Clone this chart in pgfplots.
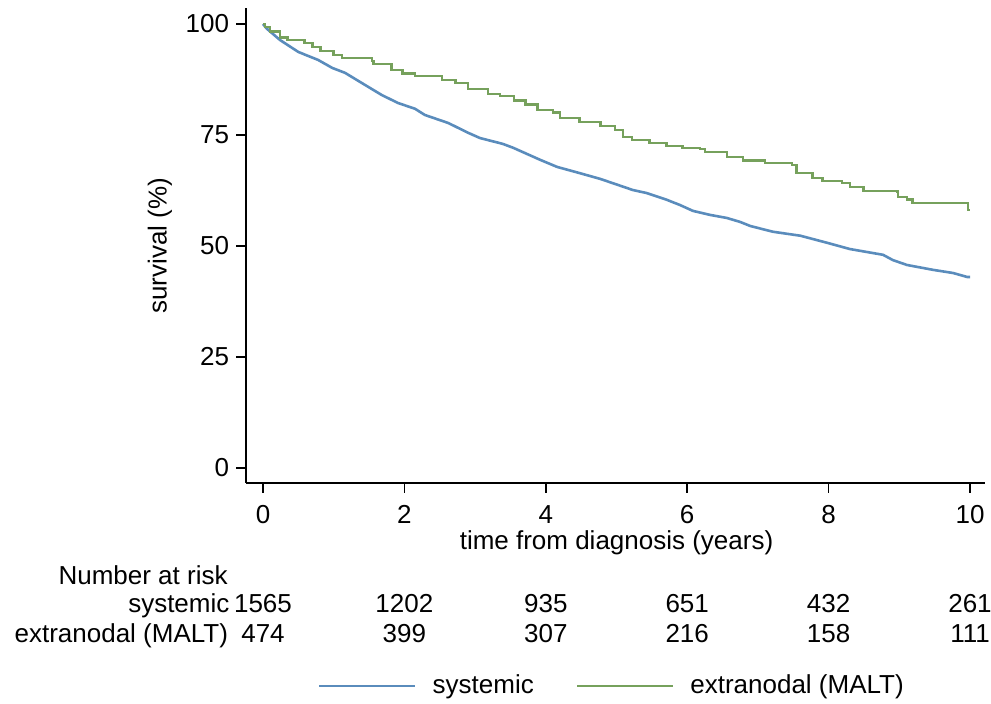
\documentclass[border=0pt]{standalone}
\usepackage{fontspec}
\setmainfont{Liberation Sans}
\usepackage{pgfplots}
\pgfplotsset{compat=1.18}
\definecolor{kmblue}{RGB}{90,140,188}
\definecolor{kmgreen}{RGB}{118,161,92}
\begin{document}
\fontsize{13}{15}\selectfont
\begin{tikzpicture}
\begin{axis}[
  scale only axis, width=369.5pt, height=237.5pt,
  xmin=-0.24, xmax=10.21, ymin=-3.4, ymax=103.6,
  axis x line*=bottom, axis y line*=left,
  axis line style={line width=0.75pt, -},
  xtick={0,2,...,10}, ytick={0,25,50,75,100},
  tick align=outside, major tick length=5pt,
  tick style={line width=0.75pt, black},
  /pgf/number format/assume math mode=true,
  xticklabel style={anchor=base, yshift=-15.5pt},
  yticklabel style={anchor=east, xshift=1pt},
  xlabel={time from diagnosis (years)},
  xlabel style={at={(axis cs:5,-18.47)}, anchor=base, inner sep=0pt},
  ylabel={survival (\%)},
  ylabel style={at={(axis cs:-1.457,50)}, anchor=center, inner sep=0pt},
  clip=false,
  legend columns=2,
  legend style={at={(axis description cs:0.4966,-0.4274)}, anchor=center, draw=none, fill=none,
    /tikz/every odd column/.append style={column sep=6pt},
    /tikz/every even column/.append style={column sep=19pt}},
  legend image code/.code={\draw[#1] (0pt,0pt) -- (48pt,0pt);},
]
\addplot[kmblue, line width=1.3pt] coordinates {
(0,100) (0.05,99) (0.24,96.4) (0.50,93.7) (0.78,91.9) (0.98,90.1) (1.16,89.0)
(1.44,86.3) (1.68,84.0) (1.91,82.2) (2.15,80.9) (2.29,79.5) (2.62,77.7)
(2.90,75.5) (3.07,74.3) (3.39,73.0) (3.54,72.1) (3.92,69.4) (4.16,67.8)
(4.48,66.4) (4.77,65.1) (5.01,63.8) (5.23,62.6) (5.43,61.9) (5.71,60.4)
(5.90,59.2) (6.08,57.9) (6.32,57.0) (6.56,56.3) (6.75,55.4) (6.89,54.5)
(7.21,53.2) (7.60,52.3) (7.98,50.7) (8.30,49.3) (8.77,48.0) (8.91,46.8)
(9.11,45.7) (9.48,44.6) (9.76,43.9) (9.96,43.0) (10,43.0)
};
\addlegendentry{systemic}
\addplot[kmgreen, line width=1.3pt, const plot] coordinates {
(0,100) (0.03,99.3) (0.10,98.3) (0.24,97.0) (0.35,96.4) (0.59,95.7) (0.70,94.8)
(0.81,93.9) (1.00,93.0) (1.12,92.3) (1.54,91.7) (1.56,91.0) (1.82,89.6)
(1.97,88.9) (2.15,88.3) (2.53,87.4) (2.72,86.7) (2.90,85.4) (3.18,84.2)
(3.35,83.8) (3.55,82.8) (3.71,81.8) (3.88,80.6) (4.10,80.0) (4.20,78.8)
(4.48,77.9) (4.77,77.0) (4.98,76.1) (5.09,74.5) (5.22,73.9) (5.47,73.2)
(5.71,72.5) (5.93,72.1) (6.18,71.8) (6.25,71.2) (6.56,70.0) (6.79,69.2)
(7.10,68.7) (7.48,68.2) (7.55,66.4) (7.77,65.3) (7.91,64.6) (8.19,64.2)
(8.30,63.3) (8.49,62.4) (8.97,62.2) (8.98,61.0) (9.11,60.4) (9.19,59.7)
(9.89,59.7) (9.97,58.1) (10,58.1)
};
\addlegendentry{extranodal (MALT)}
\node[anchor=base east, inner sep=0pt] at (axis cs:-0.495,-26.35) {Number at risk};
\node[anchor=base east, inner sep=0pt] at (axis cs:-0.47,-32.66) {systemic};
\node[anchor=base east, inner sep=0pt] at (axis cs:-0.49,-39.41) {extranodal (MALT)};
\node[anchor=base, inner sep=0pt] at (axis cs:0,-32.66) {1565};
\node[anchor=base, inner sep=0pt] at (axis cs:2,-32.66) {1202};
\node[anchor=base, inner sep=0pt] at (axis cs:4,-32.66) {935};
\node[anchor=base, inner sep=0pt] at (axis cs:6,-32.66) {651};
\node[anchor=base, inner sep=0pt] at (axis cs:8,-32.66) {432};
\node[anchor=base, inner sep=0pt] at (axis cs:10,-32.66) {261};
\node[anchor=base, inner sep=0pt] at (axis cs:0,-39.41) {474};
\node[anchor=base, inner sep=0pt] at (axis cs:2,-39.41) {399};
\node[anchor=base, inner sep=0pt] at (axis cs:4,-39.41) {307};
\node[anchor=base, inner sep=0pt] at (axis cs:6,-39.41) {216};
\node[anchor=base, inner sep=0pt] at (axis cs:8,-39.41) {158};
\node[anchor=base, inner sep=0pt] at (axis cs:10,-39.41) {111};
\coordinate (bbll) at (axis cs:-3.72,-53.15);
\coordinate (bbur) at (axis cs:10.297,105.41);
\end{axis}
\pgfresetboundingbox
\useasboundingbox (bbll) rectangle (bbur);
\end{tikzpicture}
\end{document}
